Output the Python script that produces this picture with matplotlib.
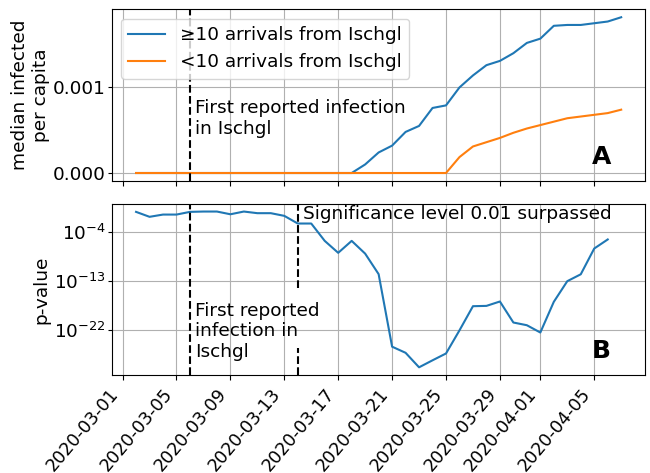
import numpy as np
import matplotlib
matplotlib.use('Agg')
import matplotlib.pyplot as plt
import matplotlib.dates as mdates

# daily dates, 2020-03-02 .. 2020-04-07
dates = np.arange(np.datetime64('2020-03-02'), np.datetime64('2020-04-08'))

# median infected per capita
high_arrivals = [0, 0, 0, 0, 0, 0, 0, 0, 0, 0, 0, 0, 0, 0, 0, 0, 0,
                 0.00010, 0.00024, 0.00032, 0.00048, 0.00055, 0.00076, 0.00079,
                 0.00100, 0.00114, 0.00126, 0.00131, 0.00140, 0.00152, 0.00157,
                 0.00172, 0.00173, 0.00173, 0.00175, 0.00177, 0.00182]
low_arrivals = [0, 0, 0, 0, 0, 0, 0, 0, 0, 0, 0, 0, 0, 0, 0, 0, 0, 0, 0, 0,
                0, 0, 0, 0,
                0.000186, 0.00031, 0.00036, 0.00041, 0.00047, 0.00052, 0.00056,
                0.00060, 0.00064, 0.00066, 0.00068, 0.00070, 0.00074]

# p-values, 2020-03-02 .. 2020-04-06
p_values = [0.47, 0.058, 0.15, 0.15, 0.47, 0.54, 0.54, 0.17, 0.54, 0.27,
            0.27, 0.087, 3.4e-3, 3.4e-3, 2.2e-6, 1.4e-8, 2.2e-6, 1.0e-8,
            1.7e-12, 8e-26, 6e-27, 1.3e-29, 2.5e-28, 4.5e-27, 8e-23, 2.2e-18,
            2.5e-18, 1.6e-17, 2.2e-21, 7e-22, 3.2e-23, 1.4e-17, 8.7e-14,
            1.6e-12, 8.7e-8, 4e-6]

tick_dates = ['2020-03-01', '2020-03-05', '2020-03-09', '2020-03-13',
              '2020-03-17', '2020-03-21', '2020-03-25', '2020-03-29',
              '2020-04-01', '2020-04-05']

first_infection = np.datetime64('2020-03-06')
significance_day = np.datetime64('2020-03-14')
text_shift = np.timedelta64(9, 'h')

plt.rcParams['font.size'] = 13.3
plt.rcParams['ytick.major.pad'] = 1.5
plt.rcParams['ytick.major.size'] = 3

fig, (ax1, ax2) = plt.subplots(2, 1, figsize=(6.5, 4.73), dpi=100, sharex=True)
fig.subplots_adjust(left=0.172, right=0.993, top=0.980, bottom=0.207, hspace=0.134)

# Panel A
ax1.plot(dates, high_arrivals, label='≥10 arrivals from Ischgl')
ax1.plot(dates, low_arrivals, label='<10 arrivals from Ischgl')
ax1.axvline(first_infection, color='k', linestyle='--')
ax1.text(first_infection + text_shift, 0.00064, 'First reported infection\nin Ischgl',
         va='center', ha='left')
ax1.set_yticks([0, 0.001])
ax1.yaxis.set_major_formatter(matplotlib.ticker.FormatStrFormatter('%.3f'))
ax1.set_ylabel('median infected\nper capita', labelpad=2)
ax1.grid(True)
ax1.legend(loc='upper left')
ax1.text(0.9, 0.1, 'A', transform=ax1.transAxes, fontsize=18, fontweight='bold')

# Panel B
ax2.plot(dates[:len(p_values)], p_values)
ax2.set_yscale('log')
ax2.axvline(first_infection, color='k', linestyle='--')
ax2.axvline(significance_day, ymin=0.506, ymax=1, color='k', linestyle='--')
ax2.axvline(significance_day, ymin=0, ymax=0.157, color='k', linestyle='--')
ax2.text(significance_day + text_shift, 10**-0.8, 'Significance level 0.01 surpassed',
         va='center', ha='left')
ax2.text(first_infection + text_shift, 10**-22.3, 'First reported\ninfection in\nIschgl',
         va='center', ha='left')
ax2.set_yticks([1e-22, 1e-13, 1e-4])
ax2.yaxis.set_minor_locator(matplotlib.ticker.NullLocator())
ax2.set_ylabel('p-value', labelpad=2)
ax2.grid(True)
ax2.text(0.9, 0.1, 'B', transform=ax2.transAxes, fontsize=18, fontweight='bold')

ax2.set_xticks([np.datetime64(d) for d in tick_dates])
ax2.xaxis.set_major_formatter(mdates.DateFormatter('%Y-%m-%d'))
for lbl in ax2.get_xticklabels():
    lbl.set_rotation(50)
    lbl.set_ha('right')
    lbl.set_fontsize(12.7)

fig.savefig('out.png', dpi=100)
